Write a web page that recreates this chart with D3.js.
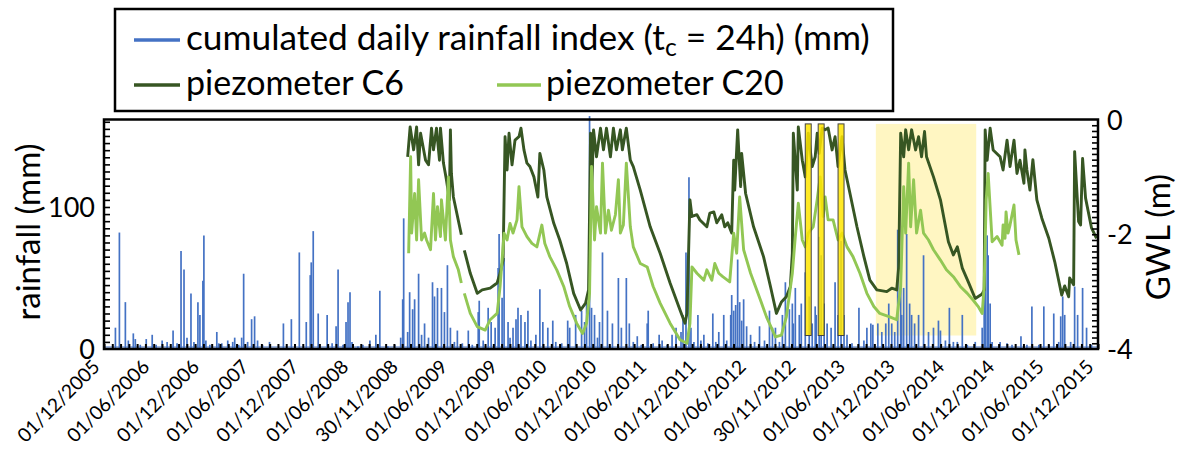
<!DOCTYPE html>
<html>
<head>
<meta charset="utf-8">
<script src="https://cdn.jsdelivr.net/npm/d3@7"></script>
<style>
  html, body { margin: 0; padding: 0; background: #fff; }
  svg { display: block; font-family: Lato, "Open Sans", sans-serif; }
</style>
</head>
<body>
<svg id="chart" width="1183" height="454"></svg>
<script>
// ---------------- DATA ----------------
const tickLabels = ["01/12/2005","01/06/2006","01/12/2006","01/06/2007","01/12/2007","01/06/2008",
  "30/11/2008","01/06/2009","01/12/2009","01/06/2010","01/12/2010","01/06/2011","01/12/2011",
  "01/06/2012","30/11/2012","01/06/2013","01/12/2013","01/06/2014","01/12/2014","01/06/2015","01/12/2015"];

const rainLeftTicks = [0, 100];
const gwlRightTicks = [-4, -2, 0];

// cumulated daily rainfall index (mm): [decimal year, value]
const rainfall = [
 [2006.03,15],[2006.07,82],[2006.13,33],[2006.16,6],[2006.21,11],[2006.23,7],[2006.28,3],[2006.34,7],
 [2006.40,10],[2006.44,3],[2006.50,6],[2006.55,5],[2006.61,13],[2006.65,4],[2006.69,69],[2006.72,56],
 [2006.75,8],[2006.79,39],[2006.82,5],[2006.86,33],[2006.88,24],[2006.91,48],[2006.92,80],[2006.94,6],
 [2006.98,3],[2007.05,12],[2007.07,4],[2007.10,4],[2007.16,6],[2007.21,5],[2007.23,8],[2007.27,3],
 [2007.30,8],[2007.32,53],[2007.36,5],[2007.40,21],[2007.43,23],[2007.46,6],[2007.51,3],[2007.58,5],
 [2007.72,18],[2007.80,21],[2007.88,68],[2007.95,19],[2007.99,52],[2008.00,61],[2008.02,83],[2008.07,25],
 [2008.16,24],[2008.21,4],[2008.25,16],[2008.27,56],[2008.32,3],[2008.35,19],[2008.37,33],[2008.39,40],
 [2008.41,5],[2008.47,2],[2008.52,3],[2008.59,6],[2008.65,10],[2008.69,41],[2008.77,2],[2008.84,3],
 [2008.90,8],[2008.92,35],[2008.93,92],[2008.97,12],[2008.99,40],[2009.02,28],[2009.04,35],[2009.08,53],
 [2009.11,10],[2009.14,18],[2009.18,8],[2009.22,47],[2009.24,37],[2009.27,43],[2009.31,43],[2009.34,26],
 [2009.37,59],[2009.40,15],[2009.44,5],[2009.47,13],[2009.52,4],[2009.58,13],[2009.62,3],[2009.68,26],
 [2009.69,34],[2009.73,6],[2009.78,29],[2009.81,19],[2009.85,15],[2009.88,57],[2009.89,81],[2009.92,36],
 [2009.94,64],[2009.98,19],[2010.00,8],[2010.03,15],[2010.06,21],[2010.08,29],[2010.11,24],[2010.15,19],
 [2010.18,27],[2010.21,6],[2010.26,10],[2010.30,42],[2010.33,19],[2010.38,15],[2010.43,20],[2010.46,5],
 [2010.52,4],[2010.58,20],[2010.60,15],[2010.66,24],[2010.72,27],[2010.75,19],[2010.77,33],[2010.80,164],
 [2010.82,29],[2010.85,24],[2010.88,8],[2010.90,19],[2010.93,68],[2010.98,27],[2011.03,18],[2011.09,50],
 [2011.12,15],[2011.17,50],[2011.20,18],[2011.24,5],[2011.28,9],[2011.32,3],[2011.38,18],[2011.39,27],
 [2011.44,4],[2011.50,10],[2011.53,6],[2011.58,3],[2011.63,10],[2011.67,15],[2011.72,12],[2011.74,24],
 [2011.77,68],[2011.80,121],[2011.82,15],[2011.85,5],[2011.89,24],[2011.92,6],[2011.95,10],[2011.99,4],
 [2012.04,25],[2012.07,5],[2012.10,12],[2012.15,24],[2012.18,6],[2012.22,24],[2012.23,38],[2012.25,27],
 [2012.27,31],[2012.29,63],[2012.31,33],[2012.33,20],[2012.35,35],[2012.38,16],[2012.42,10],[2012.46,5],
 [2012.51,16],[2012.56,6],[2012.61,27],[2012.64,15],[2012.67,15],[2012.71,5],[2012.74,24],[2012.77,47],
 [2012.81,28],[2012.84,32],[2012.85,18],[2012.87,43],[2012.91,24],[2012.93,32],[2012.97,54],[2013.01,37],
 [2013.04,18],[2013.07,30],[2013.08,24],[2013.11,79],[2013.13,66],[2013.16,32],[2013.19,18],[2013.23,15],
 [2013.27,47],[2013.30,24],[2013.33,76],[2013.36,24],[2013.39,10],[2013.44,4],[2013.51,29],[2013.56,6],
 [2013.59,15],[2013.63,18],[2013.65,17],[2013.70,18],[2013.74,12],[2013.78,18],[2013.81,32],[2013.84,18],
 [2013.87,12],[2013.90,84],[2013.93,57],[2013.94,24],[2013.96,43],[2013.99,81],[2014.02,32],[2014.04,24],
 [2014.07,18],[2014.11,24],[2014.16,66],[2014.21,12],[2014.26,15],[2014.31,20],[2014.33,13],[2014.38,6],
 [2014.42,29],[2014.46,5],[2014.50,5],[2014.55,24],[2014.60,3],[2014.68,5],[2014.75,15],[2014.77,52],
 [2014.78,134],[2014.80,80],[2014.81,66],[2014.83,32],[2014.85,5],[2014.93,5],[2015.00,4],[2015.05,3],
 [2015.14,9],[2015.20,3],[2015.25,30],[2015.32,3],[2015.37,30],[2015.42,3],[2015.47,25],[2015.52,5],
 [2015.54,23],[2015.56,37],[2015.58,24],[2015.64,5],[2015.68,44],[2015.71,24],[2015.76,43],[2015.80,15],
 [2015.85,3]
];

// piezometer C6 groundwater level (m): [decimal year, value] (null = gap)
const piezoC6 = [
 [2008.97,-0.65],[2008.995,-0.13],[2009.03,-0.53],[2009.06,-0.13],[2009.08,-0.79],[2009.10,-0.24],
 [2009.15,-0.71],[2009.18,-0.79],[2009.21,-0.15],[2009.23,-0.53],[2009.26,-0.15],[2009.29,-0.71],
 [2009.30,-0.15],[2009.33,-0.76],[2009.36,-1.05],[2009.39,-1.40],[2009.40,-0.18],[2009.41,-0.94],
 [2009.43,-1.35],[2009.51,-2.01],[2009.525,null],[2009.54,-2.28],[2009.60,-2.68],[2009.67,-3.03],
 [2009.72,-2.97],[2009.80,-2.94],[2009.87,-2.85],[2009.90,-2.68],[2009.93,-2.45],[2009.95,-0.30],
 [2009.97,-0.88],[2009.99,-0.24],[2010.02,-0.79],[2010.05,-0.36],[2010.09,-0.30],[2010.11,-0.15],
 [2010.14,-0.53],[2010.17,-0.76],[2010.20,-0.82],[2010.24,-1.00],[2010.28,-1.35],[2010.30,-0.59],
 [2010.34,-0.88],[2010.37,-1.35],[2010.44,-1.81],[2010.50,-2.10],[2010.57,-2.51],[2010.64,-3.03],
 [2010.71,-3.32],[2010.76,-3.20],[2010.79,-2.97],[2010.81,-0.24],[2010.82,-1.35],[2010.84,-0.18],
 [2010.87,-0.65],[2010.91,-0.15],[2010.94,-0.53],[2010.97,-0.15],[2011.01,-0.65],[2011.04,-0.15],
 [2011.07,-0.53],[2011.11,-0.18],[2011.13,-0.53],[2011.17,-0.15],[2011.21,-0.71],[2011.24,-0.82],
 [2011.31,-1.23],[2011.41,-1.87],[2011.51,-2.33],[2011.61,-2.85],[2011.71,-3.32],[2011.76,-3.55],
 [2011.78,-3.38],[2011.81,-1.40],[2011.83,-1.69],[2011.88,-1.66],[2011.91,-1.75],[2011.98,-1.87],
 [2012.01,-1.63],[2012.05,-1.61],[2012.08,-1.80],[2012.13,-1.66],[2012.16,-1.87],[2012.19,-1.80],
 [2012.23,-1.98],[2012.25,-0.71],[2012.26,-1.23],[2012.29,-0.18],[2012.32,-1.17],[2012.33,-0.59],
 [2012.37,-1.29],[2012.45,-1.87],[2012.55,-2.39],[2012.62,-2.91],[2012.68,-3.38],[2012.73,-3.18],
 [2012.78,-3.09],[2012.82,-2.91],[2012.84,-2.33],[2012.85,-0.24],[2012.89,-1.23],[2012.90,-0.13],
 [2012.94,-0.71],[2012.97,-1.00],[2013.00,-0.24],[2013.04,-0.82],[2013.07,-0.65],[2013.09,-0.24],
 [2013.11,-0.59],[2013.14,-0.15],[2013.17,-0.18],[2013.20,-0.15],[2013.24,-0.53],[2013.27,-0.30],
 [2013.30,-0.82],[2013.34,-0.30],[2013.37,-0.88],[2013.42,-1.29],[2013.49,-1.87],[2013.56,-2.39],
 [2013.62,-2.80],[2013.69,-2.97],[2013.79,-3.00],[2013.84,-2.94],[2013.89,-2.97],[2013.91,-2.57],
 [2013.93,-0.24],[2013.96,-0.65],[2013.98,-0.18],[2014.01,-0.53],[2014.04,-0.18],[2014.08,-0.53],
 [2014.11,-0.30],[2014.14,-0.65],[2014.17,-0.21],[2014.19,-0.65],[2014.26,-1.00],[2014.33,-1.40],
 [2014.41,-2.13],[2014.46,-2.36],[2014.50,-2.22],[2014.55,-2.59],[2014.61,-2.83],[2014.68,-3.12],
 [2014.75,-3.04],[2014.77,-2.97],[2014.78,-0.18],[2014.80,-0.71],[2014.83,-0.15],[2014.86,-0.53],
 [2014.93,-0.65],[2014.96,-0.88],[2015.00,-0.36],[2015.03,-0.82],[2015.07,-0.36],[2015.10,-0.94],
 [2015.13,-0.71],[2015.17,-1.11],[2015.18,-0.53],[2015.20,-0.88],[2015.23,-1.23],[2015.26,-0.70],
 [2015.30,-1.40],[2015.35,-1.72],[2015.42,-2.07],[2015.48,-2.48],[2015.55,-3.06],[2015.58,-2.90],
 [2015.62,-3.09],[2015.63,-2.76],[2015.67,-2.88],[2015.68,-0.56],[2015.72,-1.78],[2015.74,-1.84],
 [2015.76,-0.68],[2015.79,-1.37],[2015.85,-1.89],[2015.90,-2.07]
];

// piezometer C20 groundwater level (m)
const piezoC20 = [
 [2008.98,-2.33],[2009.00,-0.65],[2009.01,-1.98],[2009.04,-1.29],[2009.06,-2.10],[2009.08,-1.05],
 [2009.11,-2.10],[2009.14,-1.98],[2009.16,-2.10],[2009.20,-2.27],[2009.23,-1.29],[2009.25,-2.10],
 [2009.27,-1.52],[2009.30,-2.04],[2009.31,-1.40],[2009.35,-2.10],[2009.38,-1.00],[2009.40,-2.10],
 [2009.43,-2.39],[2009.48,-2.62],[2009.51,-2.85],[2009.525,null],[2009.54,-3.03],[2009.60,-3.38],
 [2009.67,-3.61],[2009.75,-3.67],[2009.80,-3.49],[2009.87,-3.38],[2009.90,-2.91],[2009.94,-1.98],
 [2009.97,-2.10],[2010.00,-1.81],[2010.03,-1.98],[2010.07,-1.75],[2010.09,-1.17],[2010.12,-1.87],
 [2010.17,-2.04],[2010.22,-2.16],[2010.27,-2.22],[2010.32,-1.84],[2010.35,-2.16],[2010.40,-2.39],
 [2010.47,-2.62],[2010.54,-2.91],[2010.60,-3.26],[2010.67,-3.55],[2010.73,-3.73],[2010.77,-3.55],
 [2010.80,-3.03],[2010.82,-0.82],[2010.85,-2.10],[2010.87,-1.52],[2010.91,-1.98],[2010.93,-0.76],
 [2010.96,-1.98],[2010.99,-1.58],[2011.02,-1.93],[2011.06,-1.66],[2011.09,-1.05],[2011.11,-1.98],
 [2011.14,-1.84],[2011.17,-0.76],[2011.21,-1.87],[2011.24,-2.22],[2011.31,-2.51],[2011.38,-2.57],
 [2011.44,-2.91],[2011.51,-3.20],[2011.61,-3.55],[2011.71,-3.84],[2011.78,-3.90],[2011.81,-3.55],
 [2011.83,-2.57],[2011.88,-2.68],[2011.95,-2.80],[2011.98,-2.62],[2012.03,-2.80],[2012.06,-2.51],
 [2012.10,-2.68],[2012.14,-2.74],[2012.21,-2.83],[2012.25,-1.98],[2012.28,-2.33],[2012.31,-1.35],
 [2012.35,-2.27],[2012.42,-2.68],[2012.52,-3.15],[2012.58,-3.44],[2012.67,-3.79],[2012.73,-3.76],
 [2012.78,-3.44],[2012.84,-2.68],[2012.87,-2.04],[2012.90,-1.46],[2012.94,-2.10],[2012.97,-2.22],
 [2013.00,-1.98],[2013.05,-1.87],[2013.09,-1.40],[2013.12,-1.00],[2013.15,-1.69],[2013.17,-1.35],
 [2013.20,-1.75],[2013.25,-1.75],[2013.30,-2.10],[2013.34,-1.98],[2013.39,-2.22],[2013.45,-2.39],
 [2013.52,-2.68],[2013.59,-3.03],[2013.66,-3.26],[2013.72,-3.38],[2013.82,-3.44],[2013.89,-3.49],
 [2013.93,-2.91],[2013.96,-1.17],[2013.98,-1.98],[2014.01,-0.76],[2014.03,-1.87],[2014.06,-1.05],
 [2014.09,-1.98],[2014.13,-1.58],[2014.16,-1.98],[2014.21,-2.10],[2014.26,-2.27],[2014.33,-2.45],
 [2014.39,-2.62],[2014.46,-2.74],[2014.53,-2.91],[2014.60,-3.03],[2014.66,-3.15],[2014.71,-3.26],
 [2014.75,-3.38],[2014.77,-2.91],[2014.79,-1.40],[2014.81,-0.94],[2014.85,-2.13],[2014.90,-2.04],
 [2014.95,-2.19],[2014.96,-1.84],[2014.98,-2.07],[2014.99,-1.61],[2015.01,-1.98],[2015.03,-1.84],
 [2015.07,-1.49],[2015.09,-2.10],[2015.12,-2.36]
];

// highlighted periods (decimal years) and their vertical extent (mm, left axis)
const eventWindows = [[2012.97, 2013.03], [2013.10, 2013.16], [2013.30, 2013.36]];
const shadedPeriod = [2013.68, 2014.69];
const highlightRangeMM = [9.5, 158.5];

const seriesNames = ["cumulated daily rainfall index (t", "c", " = 24h) (mm)", "piezometer C6", "piezometer C20"];

// ---------------- CHART ----------------
const svg = d3.select("#chart");
const P = { left: 104, right: 1098, top: 119.5, bottom: 349 };
const COL = { rain: "#4472C4", c6: "#375623", c20: "#92C754" };

function parseLabel(s) {
  const [d, m, y] = s.split("/").map(Number);
  const doy = d3.timeDay.count(new Date(y, 0, 1), new Date(y, m - 1, d));
  return y + doy / 365;
}
const tickPos = tickLabels.map(parseLabel);

const x = d3.scaleLinear().domain([tickPos[0], tickPos[tickPos.length - 1]]).range([P.left, P.right]);
const yR = d3.scaleLinear().domain([0, 161.6]).range([P.bottom, P.top]);
const yG = d3.scaleLinear().domain([-4, 0]).range([P.bottom, P.top]);

function fit(sel, target) {
  const w = sel.node().getComputedTextLength();
  const fs = parseFloat(sel.style("font-size"));
  sel.style("font-size", (fs * target / w) + "px");
}

// shaded long period (behind)
svg.append("rect")
  .attr("x", x(shadedPeriod[0])).attr("width", x(shadedPeriod[1]) - x(shadedPeriod[0]))
  .attr("y", yR(highlightRangeMM[1])).attr("height", yR(highlightRangeMM[0]) - yR(highlightRangeMM[1]))
  .attr("fill", "#FFF6C2");

// rainfall
svg.append("g").selectAll("line").data(rainfall).join("line")
  .attr("x1", d => x(d[0])).attr("x2", d => x(d[0]))
  .attr("y1", yR(0)).attr("y2", d => yR(d[1]))
  .attr("stroke", COL.rain).attr("stroke-width", 1.7);
svg.append("line").attr("x1", P.left).attr("x2", P.right).attr("y1", yR(0) - 2).attr("y2", yR(0) - 2)
  .attr("stroke", COL.rain).attr("stroke-width", 2).attr("opacity", 0.5);

const lineG = d3.line().defined(d => d[1] !== null).x(d => x(d[0])).y(d => yG(d[1]));
svg.append("path").attr("d", lineG(piezoC6)).attr("fill", "none")
  .attr("stroke", COL.c6).attr("stroke-width", 2.9).attr("stroke-linejoin", "round");
svg.append("path").attr("d", lineG(piezoC20)).attr("fill", "none")
  .attr("stroke", COL.c20).attr("stroke-width", 2.9).attr("stroke-linejoin", "round");

// bright event windows
svg.append("g").selectAll("rect").data(eventWindows).join("rect")
  .attr("x", d => x(d[0])).attr("width", d => x(d[1]) - x(d[0]))
  .attr("y", yR(highlightRangeMM[1])).attr("height", yR(highlightRangeMM[0]) - yR(highlightRangeMM[1]))
  .attr("fill", "#FFE500").attr("fill-opacity", 0.85)
  .attr("stroke", "#444").attr("stroke-width", 1);

// frame
svg.append("rect").attr("x", P.left).attr("y", P.top)
  .attr("width", P.right - P.left).attr("height", P.bottom - P.top)
  .attr("fill", "none").attr("stroke", "#000").attr("stroke-width", 2.5);

// minor ticks
const monthTicks = d3.range(0, 121).map(i => tickPos[0] + i / 12);
svg.append("g").attr("transform", `translate(0,${P.bottom})`)
  .call(d3.axisTop(x).tickValues(monthTicks).tickSize(5).tickFormat(""))
  .call(g => g.select(".domain").remove())
  .call(g => g.selectAll("line").attr("stroke-width", 2));
svg.append("g").attr("transform", `translate(${P.left},0)`)
  .call(d3.axisRight(yR).tickValues(d3.range(5, 161, 5)).tickSize(6).tickFormat(""))
  .call(g => g.select(".domain").remove())
  .call(g => g.selectAll("line").attr("stroke-width", 1.6));
svg.append("g").attr("transform", `translate(${P.right},0)`)
  .call(d3.axisLeft(yG).tickValues(d3.range(-39, 0).map(v => v / 10)).tickSize(6).tickFormat(""))
  .call(g => g.select(".domain").remove())
  .call(g => g.selectAll("line").attr("stroke-width", 1.6));

// tick labels
const leftAx = svg.append("g").attr("transform", `translate(${P.left},0)`)
  .call(d3.axisLeft(yR).tickValues(rainLeftTicks).tickSize(0).tickPadding(9).tickFormat(d => String(d)));
leftAx.select(".domain").remove();
leftAx.selectAll("text").attr("font-family", "Lato").style("font-size", "29px").attr("fill", "#000").attr("dy", "0.36em");
fit(leftAx.selectAll("text").filter(d => d === 100), 47);
const tickFont = leftAx.selectAll("text").filter(d => d === 100).style("font-size");
leftAx.selectAll("text").style("font-size", tickFont);

const rightAx = svg.append("g").attr("transform", `translate(${P.right},0)`)
  .call(d3.axisRight(yG).tickValues(gwlRightTicks).tickSize(0).tickPadding(9).tickFormat(d => String(d)));
rightAx.select(".domain").remove();
rightAx.selectAll("text").attr("font-family", "Lato").attr("fill", "#000")
  .style("font-size", tickFont).attr("dy", "0.36em");

// x labels
const xl = svg.append("g").selectAll("text").data(tickLabels).join("text")
  .attr("transform", (d, i) => `translate(${x(tickPos[i]) - 3},${P.bottom + 19}) rotate(-45)`)
  .attr("text-anchor", "end").style("font-size", "20px").attr("fill", "#000").text(d => d);
const xw = xl.nodes()[0].getComputedTextLength();
xl.style("font-size", (20 * 107 / xw) + "px");

// axis titles
const tl = svg.append("text").attr("transform", `translate(40,232) rotate(-90)`)
  .attr("text-anchor", "middle").style("font-size", "30px").text("rainfall (mm)");
fit(tl, 177);
const tr = svg.append("text").attr("transform", `translate(1146,237) rotate(-90)`)
  .attr("text-anchor", "middle").style("font-size", tl.style("font-size")).attr("dy", "0.74em").text("GWL (m)");

// legend
const lg = svg.append("g");
lg.append("rect").attr("x", 115).attr("y", 9).attr("width", 778).attr("height", 102)
  .attr("fill", "#fff").attr("stroke", "#000").attr("stroke-width", 2.5);
const legendRows = [
  { x1: 134, x2: 180, y: 40, col: COL.rain },
  { x1: 134, x2: 180, y: 85, col: COL.c6 },
  { x1: 497, x2: 541, y: 85, col: COL.c20 }
];
lg.selectAll("line.s").data(legendRows).join("line").attr("class", "s")
  .attr("x1", d => d.x1).attr("x2", d => d.x2).attr("y1", d => d.y).attr("y2", d => d.y)
  .attr("stroke", d => d.col).attr("stroke-width", 3.5);
const t1 = lg.append("text").attr("x", 186).attr("y", 50).style("font-size", "29px");
t1.append("tspan").text(seriesNames[0]);
t1.append("tspan").attr("dy", 6).style("font-size", "0.7em").text(seriesNames[1]);
t1.append("tspan").attr("dy", -6).text(seriesNames[2]);
fit(t1, 684);
const t2 = lg.append("text").attr("x", 186).attr("y", 95).style("font-size", "29px").text(seriesNames[3]);
fit(t2, 218);
const t3 = lg.append("text").attr("x", 546).attr("y", 95).style("font-size", t2.style("font-size")).text(seriesNames[4]);
</script>
</body>
</html>
